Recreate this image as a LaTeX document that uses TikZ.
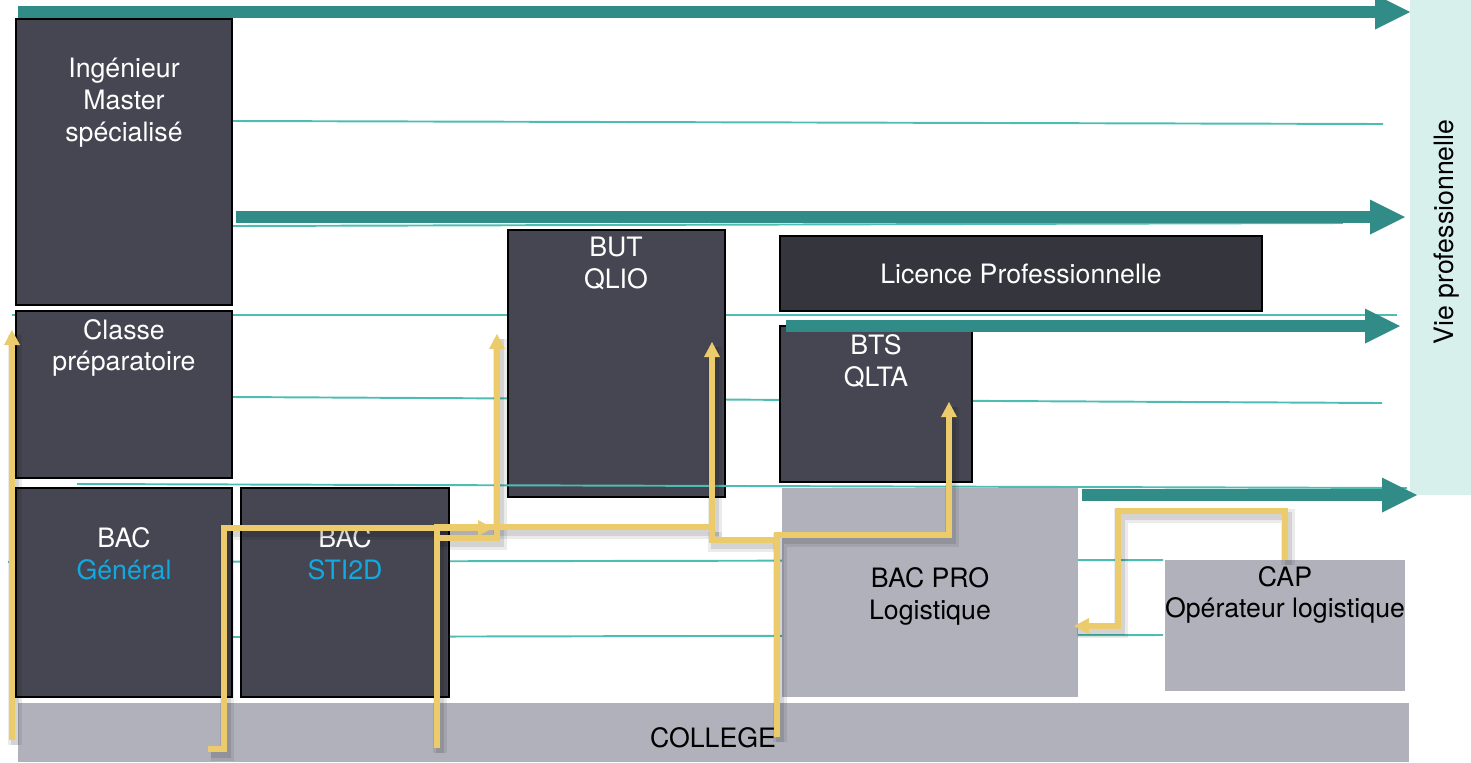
\documentclass[tikz,border=0pt]{standalone}
\usepackage{fontspec}
\setmainfont{TeX Gyre Heros}
\usetikzlibrary{arrows.meta}
\definecolor{darkbox}{HTML}{464652}
\definecolor{darkerbox}{HTML}{35353D}
\definecolor{graybox}{HTML}{B1B1BC}
\definecolor{tealarrow}{HTML}{318C87}
\definecolor{tealline}{HTML}{4DBDB3}
\definecolor{pathyellow}{HTML}{EBCB6C}
\definecolor{vieback}{HTML}{D8F0EC}
\definecolor{bluetext}{HTML}{12A8E0}
\tikzset{
  dbox/.style={draw=black, line width=0.9pt, fill=darkbox, inner sep=0pt, outer sep=0pt},
  gbox/.style={fill=graybox, inner sep=0pt, outer sep=0pt},
  lbl/.style={font=\fontsize{15.2}{18.1}\selectfont, align=center, inner sep=0pt},
  wlbl/.style={lbl, text=white},
  tline/.style={draw=tealline, line width=1.1pt},
  tarrow/.style={draw=tealarrow, line width=6.8pt, -{Triangle[length=0.7cm, width=0.7cm, line width=0pt]}},
  yshadow/.style={draw=black, opacity=0.08, line width=8pt, transform canvas={shift={(3,5)}}},
  yshadowin/.style={draw=black, opacity=0.10, line width=4pt, transform canvas={shift={(3,5)}}},
  ypath/.style={draw=pathyellow, line width=3pt, -{Triangle[length=0.3cm, width=0.32cm, line width=0pt]}},
  yplain/.style={draw=pathyellow, line width=3pt}
}
\begin{document}
\begin{tikzpicture}[x=0.02cm, y=-0.02cm]
\useasboundingbox (0,0) rectangle (1471,762);

% thin teal lines behind boxes
\draw[tline] (232,121) -- (1383,124);
\draw[tline] (232,226) -- (1343,223);
\draw[tline] (12,315) -- (1397,315);
\draw[tline] (232,397) -- (1382,403);
\draw[tline] (8,562) -- (1163,560);
\draw[tline] (232,637) -- (1163,635);

% background column
\node[fill=vieback, inner sep=0pt, outer sep=0pt, minimum width=1.22cm, minimum height=9.9cm] (vie) at (1440.5,247.5) {};

% boxes
\node[dbox, minimum width=4.32cm, minimum height=5.72cm] (ing) at (124,162) {};
\node[dbox, minimum width=4.32cm, minimum height=3.34cm] (prepa) at (124,394.5) {};
\node[dbox, minimum width=4.32cm, minimum height=4.18cm] (bacg) at (124,592.5) {};
\node[dbox, minimum width=4.16cm, minimum height=4.18cm] (bacs) at (345,592.5) {};
\node[dbox, minimum width=4.34cm, minimum height=5.34cm] (but) at (616.5,363.5) {};
\node[dbox, fill=darkerbox, minimum width=9.64cm, minimum height=1.5cm] (lic) at (1021,273.5) {};
\node[dbox, minimum width=3.84cm, minimum height=3.12cm] (bts) at (876,404) {};
\node[gbox, minimum width=5.92cm, minimum height=4.18cm] (bacpro) at (930,592.5) {};
\node[gbox, minimum width=4.8cm, minimum height=2.62cm] (cap) at (1285,625.5) {};
\node[gbox, minimum width=27.82cm, minimum height=1.18cm] (college) at (713.5,732.5) {};

% teal line drawn over boxes
\draw[tline] (77,484) -- (1407,488);

% labels
\node[wlbl] (tIng) at (124,102.5) {Ingénieur\\Master\\spécialisé};
\node[wlbl] (tPrepa) at (124,348) {Classe\\préparatoire};
\node[wlbl] (tBacg) at (124,554) {BAC\\\textcolor{bluetext}{Général}};
\node[wlbl] (tBacs) at (345,554) {BAC\\\textcolor{bluetext}{STI2D}};
\node[wlbl] (tBut) at (616,263.5) {BUT\\QLIO};
\node[wlbl] (tLic) at (1021,274) {Licence Professionnelle};
\node[wlbl] (tBts) at (876,361) {BTS\\QLTA};
\node[lbl] (tBacpro) at (930,596.5) {BAC PRO\\Logistique};
\node[lbl] (tCap) at (1285,595) {CAP\\Opérateur logistique};
\node[lbl] (tCollege) at (713,738) {COLLEGE};
\node[lbl, rotate=90] (tVie) at (1447,232) {Vie professionnelle};

% teal arrows
\coordinate (a1s) at (18,12);   \coordinate (a1e) at (1410,12);
\coordinate (a2s) at (236,217); \coordinate (a2e) at (1405,217);
\coordinate (a3s) at (786,326); \coordinate (a3e) at (1400,326);
\coordinate (a4s) at (1082,495);\coordinate (a4e) at (1417,495);
\draw[tarrow] (a1s) -- (a1e);
\draw[tarrow] (a2s) -- (a2e);
\draw[tarrow] (a3s) -- (a3e);
\draw[tarrow] (a4s) -- (a4e);

% yellow paths
\coordinate (p1s) at (12,740);  \coordinate (p1e) at (12,330);
\coordinate (p2s) at (208,749); \coordinate (p2e) at (493,528);
\coordinate (p3s) at (437,748); \coordinate (p3e) at (712,342);
\coordinate (p4s) at (437,538); \coordinate (p4e) at (497,334);
\coordinate (p5s) at (777,737); \coordinate (p5e) at (949,402);
\coordinate (p6s) at (777,540); \coordinate (p6e) at (712,527);
\coordinate (p7s) at (1285,560);\coordinate (p7e) at (1074,626);

\foreach \sh in {yshadow,yshadowin}{
  \draw[\sh] (p1s) -- (p1e);
  \draw[\sh] (p2s) -| (224,528) -- (p2e);
  \draw[\sh] (p3s) -- (437,527) -| (p3e);
  \draw[\sh] (p4s) -| (p4e);
  \draw[\sh] (p5s) -- (777,535) -| (p5e);
  \draw[\sh] (p6s) -| (p6e);
  \draw[\sh] (p7s) -- (1285,511) -| (1118,626) -- (p7e);
}

\draw[ypath] (p1s) -- (p1e);
\draw[ypath] (p2s) -| (224,528) -- (p2e);
\draw[ypath] (p3s) -- (437,527) -| (p3e);
\draw[ypath] (p4s) -| (p4e);
\draw[ypath] (p5s) -- (777,535) -| (p5e);
\draw[yplain] (p6s) -| (p6e);
\draw[ypath] (p7s) -- (1285,511) -| (1118,626) -- (p7e);
\end{tikzpicture}
\end{document}
